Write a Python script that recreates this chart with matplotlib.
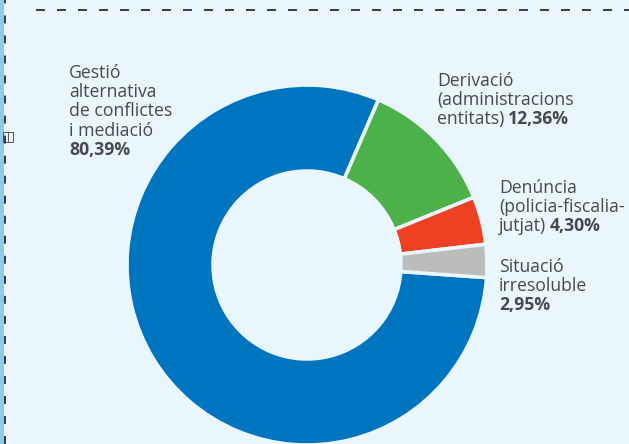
import matplotlib
matplotlib.use("Agg")
import matplotlib.pyplot as plt

# ---- data ----
categories = ["Gestió alternativa de conflictes i mediació",
              "Derivació (administracions entitats)",
              "Denúncia (policia-fiscalia-jutjat)",
              "Situació irresoluble"]
values = [80.39, 12.36, 4.30, 2.95]
value_labels = ["80,39%", "12,36%", "4,30%", "2,95%"]
colors = ["#0075bf", "#4db14a", "#ee4023", "#bcbcbc"]

W, H = 629, 444
BG = "#eaf6fd"
TXT = "#474a4d"
FONT = ["Open Sans", "DejaVu Sans"]
FS = 12.7

fig = plt.figure(figsize=(W / 100, H / 100), dpi=100, facecolor=BG)
ax = fig.add_axes([0, 0, 1, 1])
ax.set_facecolor(BG)

def py(y):
    return H - y

cx, cy, R = 307, 265, 180
wedges, _ = ax.pie(values, colors=colors, startangle=356, counterclock=False,
                   center=(cx, py(cy)), radius=R,
                   wedgeprops=dict(width=R * 0.478, edgecolor=BG, linewidth=2.6))
ax.set_xlim(0, W)
ax.set_ylim(0, H)
ax.set_aspect("auto")
ax.axis("off")

# decorations: left strip and dashed frame lines
ax.add_patch(plt.Rectangle((0, 0), 4, H, color="#8fc9ee", zorder=0, lw=0))
ax.plot([4.5, 4.5], [0, H], color="#3a3a3a", lw=1.4, dashes=(4.1, 6.2), zorder=1)
ax.plot([36, W], [py(10), py(10)], color="#3a3a3a", lw=1.4, dashes=(4.6, 6.2), zorder=1)
ax.text(1.5, py(136.5), "◫", fontsize=10, color="#333333", family=["DejaVu Sans"],
        ha="left", va="center", zorder=3)

LS = 19.2  # line spacing in px

def block(x, ytop, lines):
    """lines: list of (normal_text, bold_text)"""
    fig.canvas.draw()
    r = fig.canvas.get_renderer()
    for i, (n, b) in enumerate(lines):
        y = py(ytop + i * LS)
        xx = x
        if n:
            t = ax.text(xx, y, n, fontsize=FS, color=TXT, family=FONT, va="top", ha="left")
            bb = t.get_window_extent(renderer=r)
            xx = bb.x1 + (4 if b else 0)
        if b:
            ax.text(xx, y, b, fontsize=FS, color=TXT, family=FONT, va="top", ha="left",
                    fontweight="bold")

block(69, 64, [("Gestió", ""), ("alternativa", ""), ("de conflictes", ""),
               ("i mediació", ""), ("", value_labels[0])])
block(437, 72, [("Derivació", ""), ("(administracions", ""), ("entitats)", value_labels[1])])
block(499, 179, [("Denúncia", ""), ("(policia-fiscalia-", ""), ("jutjat)", value_labels[2])])
block(499, 258, [("Situació", ""), ("irresoluble", ""), ("", value_labels[3])])

fig.savefig("out.png", dpi=100, facecolor=BG)
